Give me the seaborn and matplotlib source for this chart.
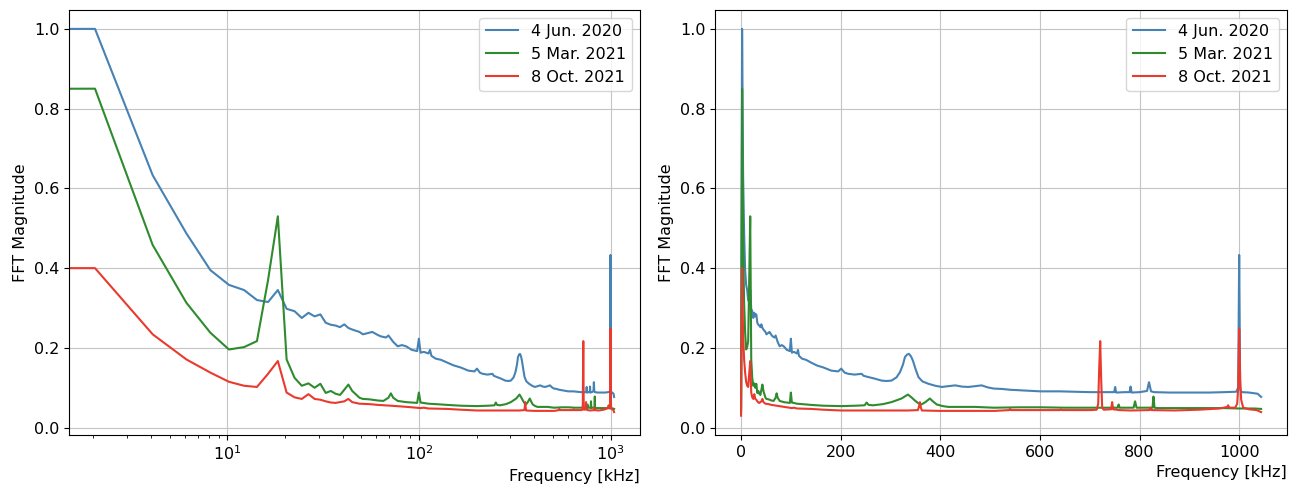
import matplotlib
matplotlib.use("Agg")
import matplotlib.pyplot as plt
import seaborn as sns

plt.rcParams["font.size"] = 11.5

# Series labels and colours
labels = ["4 Jun. 2020", "5 Mar. 2021", "8 Oct. 2021"]
colors = ["#4682b4", "#2e8b2e", "#ea3a2e"]

# 4 Jun. 2020 spectrum (frequency in kHz, normalised magnitude)
freq_jun2020 = [0, 2.04, 4.08, 6.12, 8.16, 10.2, 12.24, 14.28, 16.32, 18.36, 20.4, 22.44,
                24.48, 26.52, 28.56, 30.6, 32.64, 34.68, 36.72, 38.76, 40.8, 42.84, 44.88,
                48.96, 51.0, 55.08, 57.12, 61.2, 63.24, 67.32, 69.36, 73.44, 77.52, 81.6,
                85.68, 91.8, 97.92, 99.96, 102.0, 106.08, 112.2, 114.24, 116.28, 122.4,
                130.56, 140.76, 152, 165, 181, 195, 201, 208, 215, 228, 242, 246, 255, 268,
                282, 292, 302, 312, 319, 325, 329, 333, 337, 341, 345, 350, 356, 364, 376,
                390, 403, 416, 430, 443, 456, 470, 483, 495, 507, 524, 540, 570, 601, 640,
                670, 702, 730, 749, 751, 753, 770, 780, 782, 784, 800, 815, 819, 823, 829,
                860, 903, 940, 970, 994, 996, 998, 1000, 1002, 1004, 1006, 1020, 1037, 1044]
mag_jun2020 = [0.05, 1.0, 0.633, 0.487, 0.395, 0.358, 0.345, 0.32, 0.315, 0.345, 0.298, 0.292,
               0.275, 0.288, 0.279, 0.284, 0.263, 0.258, 0.256, 0.252, 0.259, 0.25, 0.246,
               0.24, 0.234, 0.238, 0.24, 0.232, 0.229, 0.226, 0.231, 0.215, 0.204, 0.207,
               0.204, 0.195, 0.192, 0.223, 0.188, 0.19, 0.186, 0.195, 0.18, 0.173,
               0.17, 0.163, 0.156, 0.151, 0.143, 0.141, 0.148, 0.138, 0.135, 0.133, 0.135,
               0.13, 0.127, 0.123, 0.118, 0.117, 0.118, 0.126, 0.139, 0.158, 0.177, 0.183,
               0.185, 0.179, 0.168, 0.148, 0.127, 0.116, 0.11, 0.105, 0.102, 0.104, 0.106,
               0.103, 0.102, 0.104, 0.106, 0.101, 0.098, 0.097, 0.095, 0.093, 0.091, 0.091,
               0.09, 0.089, 0.089, 0.089, 0.102, 0.088, 0.089, 0.089, 0.103, 0.088, 0.089,
               0.092, 0.114, 0.091, 0.089, 0.088, 0.088, 0.088, 0.089, 0.09, 0.095, 0.1,
               0.433, 0.098, 0.09, 0.089, 0.088, 0.085, 0.077]

# 5 Mar. 2021 spectrum
freq_mar2021 = [0, 2.04, 4.08, 6.12, 8.16, 10.2, 12.24, 14.28, 16.32, 18.36, 20.4, 22.44,
                24.48, 26.52, 28.56, 30.6, 32.64, 34.68, 36.72, 38.76, 40.8, 42.84, 44.88,
                48.96, 51.0, 55.08, 61.2, 65.28, 69.36, 71.4, 73.44, 77.52, 85.68, 91.8,
                97.92, 99.96, 102.0, 112.2, 122.4, 140.76, 165, 201, 230, 248, 252, 256,
                265, 285, 302, 322, 335, 342, 349, 356, 362, 370, 379, 386, 393, 405, 416,
                470, 507, 560, 601, 650, 702, 740, 756, 758, 760, 788, 791, 794, 826, 828,
                830, 836, 903, 970, 1000, 1030, 1044]
mag_mar2021 = [0.04, 0.85, 0.458, 0.313, 0.238, 0.196, 0.202, 0.217, 0.37, 0.53, 0.171, 0.125,
               0.105, 0.111, 0.10, 0.11, 0.087, 0.092, 0.085, 0.082, 0.095, 0.108, 0.092,
               0.075, 0.072, 0.071, 0.068, 0.067, 0.075, 0.086, 0.075, 0.067, 0.064, 0.063,
               0.062, 0.088, 0.063, 0.06, 0.059, 0.057, 0.055, 0.054, 0.055, 0.056, 0.063,
               0.057, 0.056, 0.059, 0.064, 0.073, 0.083, 0.076, 0.068, 0.061, 0.058, 0.064,
               0.073, 0.065, 0.058, 0.054, 0.052, 0.052, 0.05, 0.051, 0.051, 0.05, 0.05,
               0.05, 0.05, 0.058, 0.05, 0.05, 0.066, 0.05, 0.05, 0.078, 0.05, 0.049, 0.049,
               0.049, 0.048, 0.048, 0.047]

# 8 Oct. 2021 spectrum
freq_oct2021 = [0, 2.04, 4.08, 6.12, 8.16, 10.2, 12.24, 14.28, 16.32, 18.36, 20.4, 22.44,
                24.48, 26.52, 28.56, 30.6, 32.64, 34.68, 36.72, 40.8, 42.84, 44.88, 48.96,
                55.08, 61.2, 71.4, 81.6, 91.8, 102.0, 106.08, 112.2, 140, 165, 201, 250,
                300, 335, 355, 357, 359, 361, 363, 400, 456, 509, 538, 540, 542, 600, 640,
                642, 644, 702, 714, 717, 719, 721, 723, 725, 728, 743, 745, 747, 760, 782,
                820, 822, 824, 870, 920, 960, 969, 976, 978, 980, 992, 996, 998, 1000, 1002,
                1004, 1008, 1020, 1035, 1044]
mag_oct2021 = [0.03, 0.40, 0.234, 0.171, 0.138, 0.115, 0.105, 0.102, 0.135, 0.167, 0.088,
               0.076, 0.072, 0.084, 0.072, 0.070, 0.066, 0.063, 0.062, 0.066, 0.072, 0.064,
               0.06, 0.059, 0.057, 0.055, 0.053, 0.051, 0.049, 0.05, 0.048, 0.047, 0.045,
               0.043, 0.043, 0.043, 0.043, 0.044, 0.052, 0.064, 0.05, 0.043, 0.042, 0.042,
               0.042, 0.044, 0.047, 0.044, 0.044, 0.044, 0.046, 0.044, 0.044, 0.045, 0.06,
               0.15, 0.217, 0.12, 0.05, 0.045, 0.046, 0.064, 0.046, 0.044, 0.043, 0.044,
               0.05, 0.044, 0.043, 0.045, 0.048, 0.05, 0.052, 0.056, 0.05, 0.05, 0.06, 0.1,
               0.248, 0.12, 0.07, 0.05, 0.046, 0.044, 0.039]

series = [(freq_jun2020, mag_jun2020), (freq_mar2021, mag_mar2021), (freq_oct2021, mag_oct2021)]

fig = plt.figure(figsize=(12.98, 4.94), dpi=100)
ax_log = fig.add_axes([0.0532, 0.1194, 0.4399, 0.8613])
ax_lin = fig.add_axes([0.5509, 0.1194, 0.4407, 0.8613])

for ax in (ax_log, ax_lin):
    for (f, m), lab, col in zip(series, labels, colors):
        sns.lineplot(x=f, y=m, ax=ax, color=col, label=lab, linewidth=1.5,
                     estimator=None, sort=False)
    ax.grid(True, color="#c4c4c4")
    ax.set_xlabel("Frequency [kHz]", loc="right")
    ax.set_ylabel("FFT Magnitude")
    ax.legend(loc="upper right")

ax_log.set_xscale("log")

fig.savefig("out.png", dpi=100)
